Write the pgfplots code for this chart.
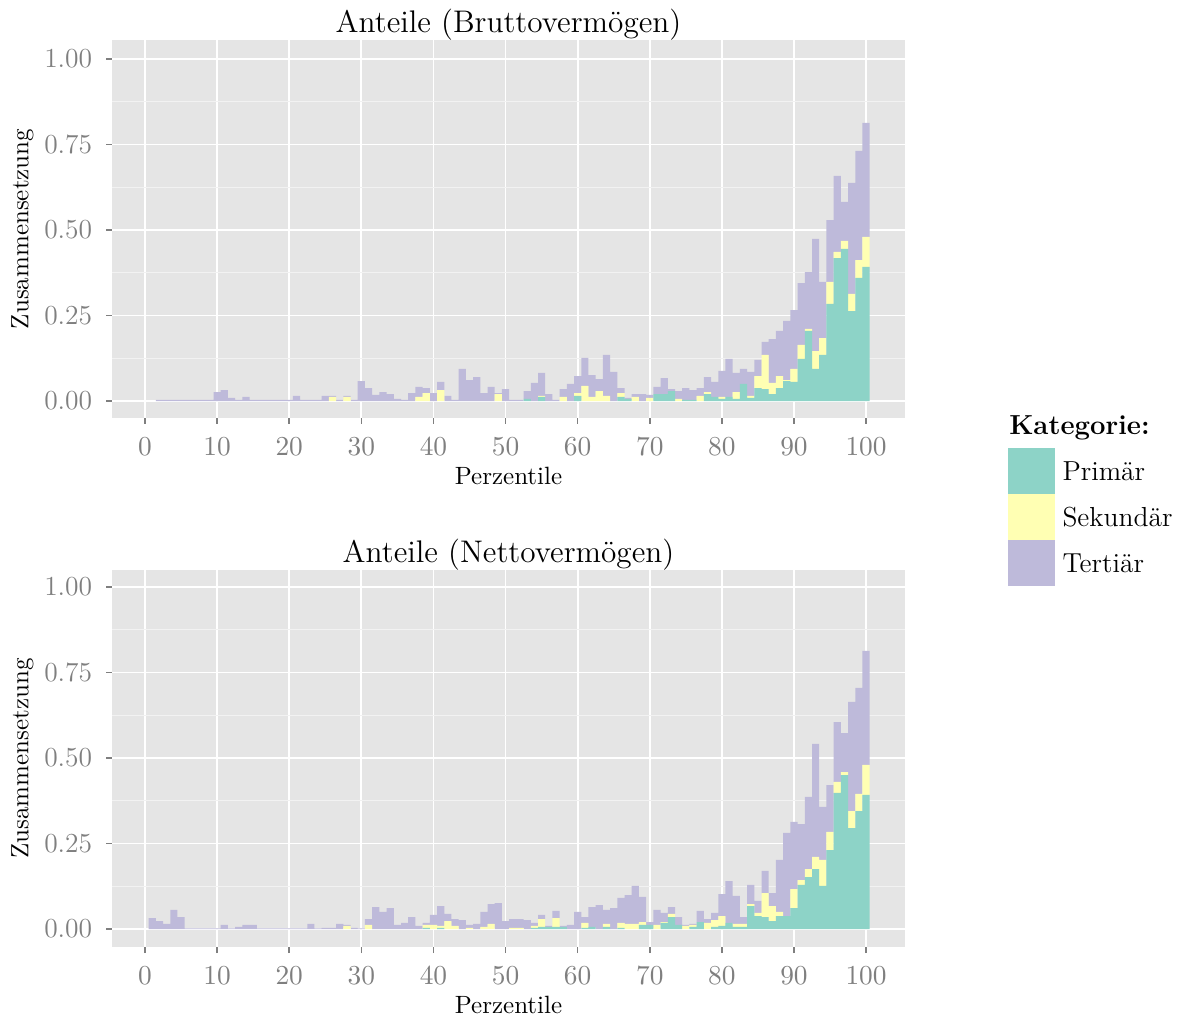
\documentclass[border=0pt]{standalone}
\usepackage{pgfplots}
\usepackage{pgfplotstable}
\pgfplotsset{compat=1.18}
\definecolor{cA}{HTML}{8DD3C7}
\definecolor{cB}{HTML}{FFFFB3}
\definecolor{cC}{HTML}{BEBADA}
\definecolor{panel}{HTML}{E5E5E5}
\definecolor{minorg}{HTML}{F2F2F2}
\definecolor{tickg}{HTML}{7F7F7F}

\pgfplotstableread{
p a b c
1 0 0 0
2 0 0 0.003
3 0 0 0.003
4 0 0 0.003
5 0 0 0.003
6 0 0 0.003
7 0 0 0.003
8 0 0 0.003
9 0 0 0.003
10 0 0 0.026
11 0 0 0.032
12 0 0 0.009
13 0 0 0.003
14 0 0 0.012
15 0 0 0.003
16 0 0 0.003
17 0 0 0.003
18 0 0 0.003
19 0 0 0.003
20 0 0 0.003
21 0 0 0.015
22 0 0 0.003
23 0 0 0.003
24 0 0 0.003
25 0 0 0.015
26 0 0.012 0.003
27 0 0 0.003
28 0 0.012 0.003
29 0 0 0.003
30 0 0 0.058
31 0 0 0.038
32 0 0 0.018
33 0 0 0.026
34 0 0 0.020
35 0 0 0.006
36 0 0 0.003
37 0 0 0.023
38 0 0.012 0.029
39 0 0.023 0.015
40 0 0 0.023
41 0 0.032 0.024
42 0 0 0.015
43 0 0 0.003
44 0 0 0.094
45 0 0 0.061
46 0 0 0.070
47 0 0 0.023
48 0 0 0.041
49 0 0.020 0.003
50 0 0 0.035
51 0 0 0.003
52 0 0 0.003
53 0.006 0 0.023
54 0 0 0.053
55 0.012 0.003 0.067
56 0 0 0.020
57 0 0 0.003
58 0 0.012 0.023
59 0 0 0.050
60 0.015 0.008 0.050
61 0 0.044 0.082
62 0 0.012 0.064
63 0 0.029 0.035
64 0 0.015 0.120
65 0 0 0.085
66 0.012 0.011 0.015
67 0.006 0 0.003
68 0 0.012 0.008
69 0 0 0.020
70 0 0.009 0.009
71 0.020 0 0.021
72 0.020 0 0.047
73 0.029 0 0.006
74 0 0.006 0.023
75 0.003 0 0.035
76 0.003 0 0.029
77 0 0.015 0.023
78 0.020 0.006 0.044
79 0.012 0 0.044
80 0.006 0.006 0.076
81 0.012 0 0.111
82 0.006 0.020 0.056
83 0.050 0 0.044
84 0.009 0.006 0.070
85 0.038 0.035 0.047
86 0.035 0.100 0.038
87 0.020 0.033 0.128
88 0.038 0.035 0.132
89 0.058 0.003 0.173
90 0.056 0.038 0.172
91 0.123 0.041 0.181
92 0.205 0.006 0.166
93 0.094 0.052 0.328
94 0.135 0.049 0.164
95 0.284 0.064 0.181
96 0.418 0.018 0.222
97 0.445 0.023 0.114
98 0.263 0.050 0.325
99 0.360 0.052 0.319
100 0.392 0.088 0.333
}\brutto

\pgfplotstableread{
p a b c
1 0 0 0.032
2 0 0 0.023
3 0 0 0.015
4 0 0 0.056
5 0 0 0.035
6 0 0 0.002
7 0 0 0.002
8 0 0 0.002
9 0 0 0.002
10 0 0 0.002
11 0 0 0.012
12 0 0 0.002
13 0 0 0.006
14 0 0 0.012
15 0 0 0.012
16 0 0 0.002
17 0 0 0.002
18 0 0 0.002
19 0 0 0.002
20 0 0 0.002
21 0 0 0.002
22 0 0 0.002
23 0 0 0.015
24 0 0 0.002
25 0 0 0.003
26 0 0 0.003
27 0 0 0.015
28 0 0.009 0.003
29 0 0 0.003
30 0 0 0.002
31 0 0.012 0.017
32 0 0 0.064
33 0 0 0.050
34 0 0 0.061
35 0 0 0.012
36 0 0 0.018
37 0 0 0.035
38 0 0 0.009
39 0.003 0.009 0.006
40 0 0.012 0.029
41 0.003 0.006 0.058
42 0 0.023 0.021
43 0 0.009 0.020
44 0 0 0.026
45 0 0.003 0.009
46 0 0 0.015
47 0 0.006 0.044
48 0 0.015 0.058
49 0 0 0.076
50 0 0 0.023
51 0 0.003 0.026
52 0 0.003 0.026
53 0 0 0.026
54 0.003 0.006 0.009
55 0.006 0.023 0.012
56 0.006 0 0.003
57 0.006 0.026 0.021
58 0.006 0 0.003
59 0 0 0.012
60 0 0 0.050
61 0.003 0.015 0.017
62 0.006 0 0.058
63 0 0 0.070
64 0.006 0.009 0.041
65 0 0 0.061
66 0.003 0.015 0.073
67 0 0.015 0.084
68 0 0.015 0.111
69 0.012 0.008 0.074
70 0.012 0 0.008
71 0 0.012 0.044
72 0.018 0.002 0.027
73 0.035 0.009 0.020
74 0.012 0 0.023
75 0 0.009 0.003
76 0.006 0.006 0.003
77 0.020 0 0.033
78 0 0.018 0.011
79 0.006 0.020 0.021
80 0.009 0.029 0.064
81 0.018 0 0.122
82 0.006 0.009 0.082
83 0.006 0.009 0.020
84 0.067 0.006 0.056
85 0.038 0.009 0.035
86 0.035 0.070 0.065
87 0.023 0.044 0.038
88 0.038 0.012 0.152
89 0.038 0 0.243
90 0.061 0.056 0.196
91 0.129 0.014 0.164
92 0.152 0.023 0.211
93 0.175 0.036 0.330
94 0.126 0.076 0.155
95 0.231 0.053 0.137
96 0.398 0.032 0.175
97 0.450 0.009 0.114
98 0.295 0.050 0.319
99 0.345 0.050 0.310
100 0.392 0.088 0.333
}\netto

\pgfplotsset{
  panel/.style={
    scale only axis,
    width=317.2pt,
    xmin=-4.58, xmax=105.4,
    axis background/.style={fill=panel},
    axis line style={draw=none},
    xtick pos=lower, ytick pos=left,
    xtick={0,10,...,100},
    ytick={0,0.25,0.5,0.75,1},
    yticklabels={0.00,0.25,0.50,0.75,1.00},
    minor ytick={0.125,0.375,0.625,0.875},
    grid=both,
    major grid style={white, line width=0.7pt},
    minor grid style={minorg, line width=0.4pt},
    tick align=outside,
    major tick length=2.4pt,
    minor tick length=0pt,
    major tick style={tickg, line width=0.6pt},
    ticklabel style={text=tickg, font=\fontsize{11}{13}\selectfont},
    yticklabel style={xshift=-2pt},
    xticklabel style={yshift=-2pt},
    xlabel={Perzentile},
    ylabel={Zusammensetzung},
    ylabel shift=-2.6pt,
    label style={font=\fontsize{10}{12}\selectfont},
    xlabel style={yshift=2pt},
    title style={font=\fontsize{12.5}{14}\selectfont, at={(0.5,1)}, anchor=south, yshift=-9.8pt},
    ybar stacked,
    bar width=1,
  }
}

\begin{document}
\begin{tikzpicture}
\useasboundingbox (0,0) rectangle (472.8pt,406.8pt);
\begin{axis}[panel, at={(44.8pt,239.6pt)}, anchor=south west,
  height=151.2pt, ymin=-0.0497, ymax=1.0556,
  title={Anteile (Bruttovermögen)}]
\addplot[fill=cA, draw=none] table[x=p, y=a] {\brutto};
\addplot[fill=cB, draw=none] table[x=p, y=b] {\brutto};
\addplot[fill=cC, draw=none] table[x=p, y=c] {\brutto};
\end{axis}
\begin{axis}[panel, at={(44.8pt,28pt)}, anchor=south west,
  height=150.8pt, ymin=-0.0526, ymax=1.0497,
  title={Anteile (Nettovermögen)}]
\addplot[fill=cA, draw=none] table[x=p, y=a] {\netto};
\addplot[fill=cB, draw=none] table[x=p, y=b] {\netto};
\addplot[fill=cC, draw=none] table[x=p, y=c] {\netto};
\end{axis}
% legend
\node[anchor=west, inner sep=0, font=\fontsize{11}{13}\selectfont\bfseries] at (403.5pt,235.6pt) {Kategorie:};
\fill[cA] (403.2pt,209.2pt) rectangle (422pt,227.6pt);
\fill[cB] (403.2pt,190.8pt) rectangle (422pt,209.2pt);
\fill[cC] (403.2pt,172.4pt) rectangle (422pt,190.8pt);
\node[anchor=west, inner sep=0, font=\fontsize{11}{13}\selectfont] at (424.8pt,218.4pt) {Primär};
\node[anchor=west, inner sep=0, font=\fontsize{11}{13}\selectfont] at (424.8pt,200pt) {Sekundär};
\node[anchor=west, inner sep=0, font=\fontsize{11}{13}\selectfont] at (424.8pt,181.6pt) {Tertiär};
\end{tikzpicture}
\end{document}
